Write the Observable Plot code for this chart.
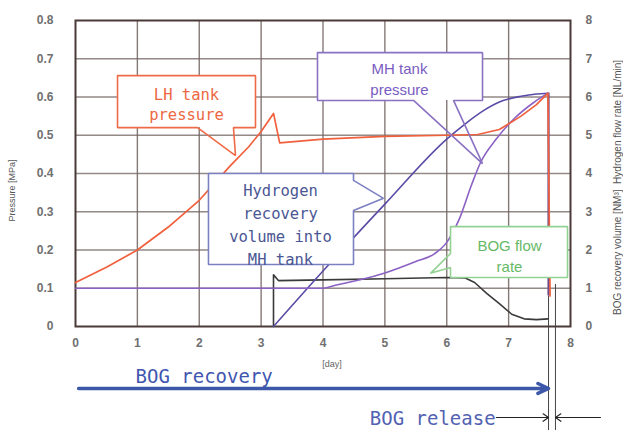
<!DOCTYPE html>
<html>
<head>
<meta charset="utf-8">
<script src="https://cdn.jsdelivr.net/npm/d3@7"></script>
<script src="https://cdn.jsdelivr.net/npm/@observablehq/plot@0.6"></script>
<style>
  body { margin: 0; background: #fff; }
</style>
</head>
<body>
<div id="chart"></div>
<script>
// LH tank pressure [MPa]
const lhDay      = [0, 0.5, 1, 1.5, 2, 2.5, 2.8, 3.0, 3.2, 3.3, 4, 5, 6, 6.5, 6.85, 7.2, 7.45, 7.635, 7.67];
const lhPressure = [0.115, 0.155, 0.2, 0.26, 0.33, 0.42, 0.47, 0.51, 0.557, 0.48, 0.49, 0.497, 0.5, 0.502, 0.515, 0.55, 0.58, 0.61, 0.08];

// MH tank pressure [MPa]
const mhDay      = [0, 4.0, 4.2, 4.6, 5.0, 5.5, 5.8, 6.0, 6.2, 6.4, 6.55, 6.8, 7.1, 7.4, 7.635];
const mhPressure = [0.1, 0.1, 0.108, 0.122, 0.14, 0.17, 0.19, 0.22, 0.28, 0.37, 0.43, 0.49, 0.545, 0.585, 0.61];

// Hydrogen recovery volume into MH tank [NM3] (right axis)
const h2Day    = [3.2, 4, 5, 6, 6.3, 6.6, 6.9, 7.2, 7.45, 7.635];
const h2Volume = [0, 1.45, 3.2, 4.9, 5.3, 5.65, 5.9, 6.02, 6.08, 6.1];

// BOG flow rate [NL/min] (right axis)
const bogDay  = [3.2, 3.2, 3.28, 4, 5, 6, 6.3, 6.45, 6.65, 6.85, 7.05, 7.25, 7.45, 7.635];
const bogFlow = [0, 1.35, 1.2, 1.22, 1.25, 1.28, 1.27, 1.15, 0.86, 0.6, 0.32, 0.2, 0.18, 0.2];

// Axis ticks
const dayTicks = [0, 1, 2, 3, 4, 5, 6, 7, 8];
const pressureTicks = [0, 0.1, 0.2, 0.3, 0.4, 0.5, 0.6, 0.7, 0.8];
const rightTicks = [0, 1, 2, 3, 4, 5, 6, 7, 8];

// BOG release window [day]
const releaseStart = 7.645;
const releaseEnd = 7.757;

// One right-axis unit equals 0.1 MPa on the shared vertical scale
const rightUnit = 0.1;

const series = (xs, ys, k = 1) => xs.map((d, i) => ({day: d, v: ys[i] * k}));
const lh  = series(lhDay, lhPressure);
const mh  = series(mhDay, mhPressure);
const h2  = series(h2Day, h2Volume, rightUnit);
const bog = series(bogDay, bogFlow, rightUnit);

const mono = "'DejaVu Sans Mono', 'Liberation Mono', monospace";
const sans = "'Liberation Sans', Arial, sans-serif";

// Speech-bubble callouts: box [x1, x2, y1, y2], tail base along one side, tail tip
const callouts = [
  {text: "LH tank\npressure", font: mono, size: 15.5, lineHeight: 1.24,
   stroke: "#ef6b48", color: "#ec6843",
   box: [0.679, 2.909, 0.520, 0.656], side: "bottom", base: [1.972, 2.553], tip: [2.586, 0.447], at: [1.794, 0.582]},
  {text: "Hydrogen\nrecovery\nvolume into\nMH tank", font: mono, size: 15.5, lineHeight: 1.48,
   stroke: "#7b80c2", color: "#4b5794",
   box: [2.149, 4.493, 0.162, 0.400], side: "right", base: [0.382, 0.303], tip: [4.978, 0.335], at: [3.313, 0.271]},
  {text: "MH tank\npressure", font: sans, size: 15, lineHeight: 1.4,
   stroke: "#8a72c2", color: "#7a5cc2",
   box: [3.911, 6.578, 0.591, 0.716], side: "bottom", base: [5.463, 6.109], tip: [6.578, 0.426], at: [5.236, 0.650]},
  {text: "BOG flow\nrate", font: sans, size: 15, lineHeight: 1.45,
   stroke: "#92d292", color: "#66b966",
   box: [6.061, 7.952, 0.128, 0.261], side: "left", base: [0.191, 0.154], tip: [5.737, 0.139], at: [7.014, 0.188]}
];

function outline(c) {
  const [x1, x2, y1, y2] = c.box;
  const [a, b] = c.base;
  let p;
  if (c.side === "bottom") p = [[x1, y2], [x2, y2], [x2, y1], [b, y1], c.tip, [a, y1], [x1, y1], [x1, y2]];
  else if (c.side === "right") p = [[x1, y2], [x2, y2], [x2, a], c.tip, [x2, b], [x2, y1], [x1, y1], [x1, y2]];
  else p = [[x1, y2], [x2, y2], [x2, y1], [x1, y1], [x1, b], c.tip, [x1, a], [x1, y2]];
  return p.map(([x, y]) => ({x, y}));
}

const calloutMarks = callouts.flatMap(c => [
  Plot.rect([c], {x1: d => d.box[0], x2: d => d.box[1], y1: d => d.box[2], y2: d => d.box[3], fill: "white"}),
  Plot.line(outline(c), {x: "x", y: "y", stroke: c.stroke, strokeWidth: 1.6, strokeLinejoin: "miter"}),
  Plot.text([c], {x: d => d.at[0], y: d => d.at[1], text: "text", fill: c.color, fontFamily: c.font,
                  fontSize: c.size, lineHeight: c.lineHeight})
]);

// Annotations under the axis
const guideBottom = -0.28;
const recoveryArrow = [{x1: 0.05, x2: releaseStart, y: -0.162}];
const releaseArrows = [{x1: 6.80, x2: releaseStart, y: -0.238}, {x1: 8.485, x2: releaseEnd, y: -0.238}];
const recoveryLabel = [{text: "BOG recovery", x: 0.97, y: -0.133}];
const releaseLabel = [{text: "BOG release", x: 6.79, y: -0.2405}];

const gridColor = "#6f625f";

const chart = Plot.plot({
  width: 623,
  height: 430,
  marginLeft: 75,
  marginRight: 53,
  marginTop: 20,
  marginBottom: 104,
  x: {domain: [0, 8]},
  y: {domain: [0, 0.8]},
  style: {fontFamily: sans, fontSize: "12px", background: "white", overflow: "visible"},
  marks: [
    Plot.ruleX(dayTicks.slice(1, -1), {stroke: gridColor, strokeWidth: 1.4, strokeOpacity: 0.85}),
    Plot.ruleY(pressureTicks.slice(1, -1), {stroke: gridColor, strokeWidth: 1.4, strokeOpacity: 0.75}),
    Plot.frame({stroke: "#4a3a38", strokeWidth: 2}),

    // release guides
    Plot.ruleX([releaseStart], {y1: guideBottom, y2: 0.08, stroke: "#444", strokeWidth: 1}),
    Plot.ruleX([releaseEnd], {y1: guideBottom, y2: 0.11, stroke: "#444", strokeWidth: 1}),
    Plot.ruleX([releaseStart], {y1: 0.08, y2: 0.61, stroke: "#6a4a8e", strokeWidth: 2.2}),

    Plot.line(bog, {x: "day", y: "v", stroke: "#3a3a3a", strokeWidth: 1.6}),
    Plot.line(h2, {x: "day", y: "v", stroke: "#5a4ca6", strokeWidth: 1.6, curve: "monotone-x"}),
    Plot.line(mh, {x: "day", y: "v", stroke: "#8b62c4", strokeWidth: 1.6, curve: "monotone-x"}),
    Plot.line(lh, {x: "day", y: "v", stroke: "#f0603c", strokeWidth: 1.7}),

    ...calloutMarks,

    // BOG recovery / release arrows
    Plot.arrow(recoveryArrow, {x1: "x1", x2: "x2", y1: "y", y2: "y", stroke: "#3d58a8", strokeWidth: 3.5, headLength: 5, headAngle: 50}),
    Plot.text(recoveryLabel, {x: "x", y: "y", text: "text", textAnchor: "start", fill: "#3f56b0", fontFamily: mono, fontSize: 19}),
    Plot.arrow(releaseArrows, {x1: "x1", x2: "x2", y1: "y", y2: "y", stroke: "#222", strokeWidth: 1.1, headLength: 9, headAngle: 70}),
    Plot.text(releaseLabel, {x: "x", y: "y", text: "text", textAnchor: "end", fill: "#5262b2", fontFamily: mono, fontSize: 19}),

    // axes
    Plot.axisX({ticks: dayTicks, tickSize: 0, tickPadding: 12, label: null, color: "#707070", fontWeight: "bold"}),
    Plot.axisY({ticks: pressureTicks, tickSize: 0, tickPadding: 22, label: null, color: "#707070", fontWeight: "bold",
                tickFormat: d => d === 0 ? "0" : d3.format(".1f")(d)}),
    Plot.axisY({anchor: "right", ticks: rightTicks.map(t => t * rightUnit), tickSize: 0, tickPadding: 15, label: null,
                color: "#707070", fontWeight: "bold", tickFormat: d => String(Math.round(d / rightUnit))}),
    Plot.text(["[day]"], {frameAnchor: "bottom", dx: 9, dy: 40, fontSize: 9, fill: "#666"}),
    Plot.text(["Pressure [MPa]"], {frameAnchor: "left", textAnchor: "middle", dx: -63, dy: 17, rotate: -90, fontSize: 9, fill: "#555"}),
    Plot.text(["BOG recovery volume [NM\u00b3]  Hydrogen flow rate [NL/min]"],
              {frameAnchor: "right", textAnchor: "middle", dx: 47, dy: 14, rotate: -90, fontSize: 10, fill: "#555"})
  ]
});

document.getElementById("chart").appendChild(chart);
</script>
</body>
</html>
